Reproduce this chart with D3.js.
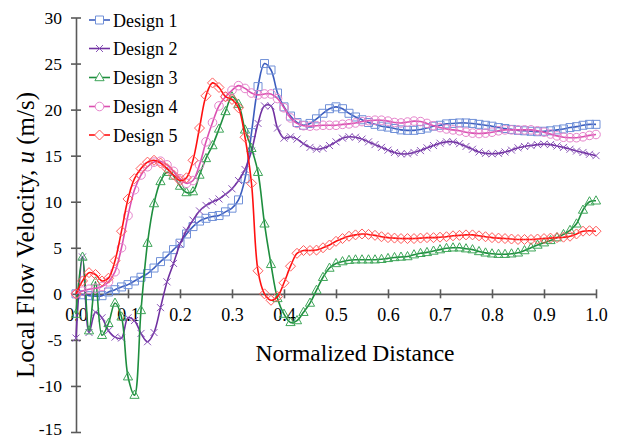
<!DOCTYPE html>
<html><head><meta charset="utf-8">
<script src="https://cdn.jsdelivr.net/npm/d3@7"></script>
<style>body{margin:0;background:#fff}</style>
</head><body><svg id="c" width="617" height="439"></svg>
<script>
// ---- data ----
const xValues = [0,0.0125,0.025,0.0375,0.05,0.0625,0.075,0.0875,0.1,0.1125,0.125,0.1375,0.15,0.1625,0.175,0.1875,0.2,0.2125,0.225,0.2375,0.25,0.2625,0.275,0.2875,0.3,0.3125,0.325,0.3375,0.35,0.3625,0.375,0.3875,0.4,0.4125,0.425,0.4375,0.45,0.4625,0.475,0.4875,0.5,0.5125,0.525,0.5375,0.55,0.5625,0.575,0.5875,0.6,0.6125,0.625,0.6375,0.65,0.6625,0.675,0.6875,0.7,0.7125,0.725,0.7375,0.75,0.7625,0.775,0.7875,0.8,0.8125,0.825,0.8375,0.85,0.8625,0.875,0.8875,0.9,0.9125,0.925,0.9375,0.95,0.9625,0.975,0.9875,1.0];
const design1 = [0,-0.1,-0.2,-0.25,-0.2,0.2,0.45,0.75,1.0,1.4,1.8,2.2,2.8,3.5,4.1,4.8,5.5,6.5,7.3,7.9,8.2,8.4,8.5,8.9,9.3,10.2,12.5,17.5,22.5,25.0,24.3,21.8,20.3,19.3,18.6,18.3,18.5,19.0,19.6,20.1,20.3,20.1,19.6,19.2,18.9,18.6,18.4,18.2,18.1,17.95,17.8,17.75,17.75,17.85,18.0,18.2,18.3,18.45,18.5,18.55,18.55,18.5,18.4,18.3,18.2,18.05,17.95,17.85,17.75,17.7,17.65,17.6,17.65,17.7,17.8,17.9,18.05,18.15,18.3,18.4,18.4];
const design2 = [-4.8,4.0,-4.2,-2.0,-2.6,-4.0,-4.7,-4.8,-2.6,-2.9,-4.3,-5.2,-4.2,-1.5,1.3,3.3,5.4,6.9,8.0,9.0,9.6,10.0,10.3,10.8,11.4,12.3,13.5,15.5,18.5,20.4,20.4,18.0,16.9,17.05,16.8,16.3,15.9,15.7,15.8,16.1,16.5,16.9,17.05,17.0,16.8,16.5,16.2,15.9,15.6,15.35,15.2,15.2,15.35,15.55,15.85,16.1,16.35,16.5,16.5,16.3,16.0,15.7,15.4,15.25,15.2,15.25,15.4,15.6,15.85,16.0,16.1,16.2,16.25,16.2,16.05,15.9,15.7,15.5,15.35,15.15,15.0];
const design3 = [-2.2,4.0,-4.0,1.3,-4.5,-3.2,-1.0,-2.5,-9.0,-11.0,-1.8,5.5,9.8,12.2,13.2,12.8,11.7,11.0,11.1,12.9,14.7,16.1,17.9,19.8,21.4,20.6,17.8,15.8,13.2,7.6,3.2,-0.5,-2.2,-3.1,-2.9,-2.0,-1.0,0.4,1.8,2.8,3.3,3.5,3.65,3.7,3.7,3.7,3.7,3.75,3.85,3.95,4.0,4.05,4.25,4.4,4.5,4.65,4.8,4.95,5.0,5.0,4.9,4.8,4.6,4.45,4.35,4.3,4.3,4.35,4.45,4.7,5.0,5.3,5.55,5.8,6.1,6.45,6.9,7.6,9.1,10.0,10.1];
const design4 = [0,0.3,0.5,0.6,0.8,1.3,2.4,5.0,8.5,11.3,12.9,13.8,14.3,14.4,14.0,13.3,12.5,12.0,12.3,14.0,16.5,18.6,20.4,21.4,22.1,22.6,22.3,21.8,21.6,21.7,21.7,21.2,20.2,19.1,18.5,18.25,18.2,18.25,18.3,18.3,18.3,18.4,18.45,18.55,18.7,18.8,18.85,18.85,18.75,18.6,18.55,18.65,18.75,18.7,18.5,18.25,18.05,17.9,17.8,17.7,17.55,17.45,17.4,17.45,17.55,17.7,17.8,17.8,17.8,17.8,17.8,17.7,17.55,17.35,17.15,17.0,16.95,16.95,17.05,17.2,17.3];
const design5 = [0,1.4,2.3,2.1,1.4,1.7,3.6,6.8,10.3,12.5,13.6,14.3,14.5,14.2,13.6,12.9,12.3,12.6,14.5,18.0,21.5,22.9,22.4,21.4,21.1,20.2,17.0,12.0,2.5,0.0,-0.7,-0.3,1.2,3.0,4.4,4.7,4.7,4.75,5.0,5.3,5.7,6.0,6.25,6.4,6.5,6.45,6.35,6.2,6.1,6.05,6.0,6.0,6.0,6.05,6.1,6.1,6.15,6.2,6.3,6.35,6.4,6.4,6.3,6.2,6.1,6.05,6.0,5.95,5.9,5.9,5.9,5.95,6.0,6.05,6.1,6.15,6.25,6.5,6.8,6.85,6.8];
const seriesNames = ["Design 1","Design 2","Design 3","Design 4","Design 5"];
const xTicks = [0,0.1,0.2,0.3,0.4,0.5,0.6,0.7,0.8,0.9,1.0];
const yTicks = [-15,-10,-5,0,5,10,15,20,25,30];
const xTitle = "Normalized Distance";

// ---- styles ----
const styles = [
  {line:"#3C5DBE", mark:"#7090D8", shape:"square"},
  {line:"#7030A0", mark:"#8A55B8", shape:"x"},
  {line:"#1E8E3E", mark:"#3FA65A", shape:"triangle"},
  {line:"#DB4FB0", mark:"#E684CC", shape:"circle"},
  {line:"#FF1010", mark:"#FF5A5A", shape:"diamond"}
];
const allSeries = [design1,design2,design3,design4,design5];
const FONT = "'Liberation Serif','Times New Roman',serif";

const svg = d3.select("#c");
const x = d3.scaleLinear().domain([0,1]).range([76,596]);
const y = d3.scaleLinear().domain([-15,30]).range([432,17.5]);

function symbolPath(shape){
  switch(shape){
    case "square": return "M-4,-4H4V4H-4Z";
    case "x": return "M-3.5,-3.5L3.5,3.5M-3.5,3.5L3.5,-3.5";
    case "triangle": return "M0,-5L4.6,3.2L-4.6,3.2Z";
    case "circle": return "M4.3,0A4.3,4.3 0 1,1 -4.3,0A4.3,4.3 0 1,1 4.3,0Z";
    case "diamond": return "M0,-5L5,0L0,5L-5,0Z";
  }
}

// ---- axes ----
const axisColor = "#5a5a5a";
const gx = svg.append("g").attr("transform",`translate(0,${y(0)})`)
  .call(d3.axisBottom(x).tickValues(xTicks).tickFormat(d => d.toFixed(1)).tickSizeInner(4.5).tickSizeOuter(0).tickPadding(9.5));
gx.select(".domain").attr("stroke",axisColor).attr("stroke-width",1.6);
gx.selectAll(".tick line").attr("y1",-4.5).attr("stroke",axisColor).attr("stroke-width",1.6);
gx.selectAll(".tick text").attr("font-family",FONT).attr("font-size",18).attr("fill","#000");

const gy = svg.append("g").attr("transform",`translate(${x(0)},0)`)
  .call(d3.axisLeft(y).tickValues(yTicks).tickFormat(d => String(d)).tickSizeInner(5).tickSizeOuter(0).tickPadding(9));
gy.select(".domain").attr("stroke",axisColor).attr("stroke-width",1.6);
gy.selectAll(".tick line").attr("x1",5).attr("stroke",axisColor).attr("stroke-width",1.6);
gy.selectAll(".tick text").attr("font-family",FONT).attr("font-size",17.5).attr("fill","#000")
  .attr("dy", d => d === -15 ? "0.17em" : "0.32em");

// ---- series ----
const line = d3.line().x((d,i)=>x(xValues[i])).y(d=>y(d)).curve(d3.curveCatmullRom.alpha(0.5));
allSeries.forEach((vals,si)=>{
  const st = styles[si];
  const g = svg.append("g");
  g.append("path").attr("d",line(vals)).attr("fill","none").attr("stroke",st.line).attr("stroke-width",1.6);
  g.selectAll("path.m").data(vals).enter().append("path").attr("class","m")
    .attr("d",symbolPath(st.shape))
    .attr("transform",(d,i)=>`translate(${x(xValues[i])},${y(d)})`)
    .attr("fill","none").attr("stroke",st.mark).attr("stroke-width",1);
});

// ---- legend ----
const legY = [20,48.5,77.5,106.5,135];
seriesNames.forEach((name,i)=>{
  const st = styles[i];
  const g = svg.append("g").attr("transform",`translate(0,${legY[i]})`);
  g.append("line").attr("x1",89).attr("x2",110).attr("y1",0).attr("y2",0).attr("stroke",st.line).attr("stroke-width",1.6);
  g.append("path").attr("d",symbolPath(st.shape)).attr("transform","translate(99.5,0)").attr("fill","#fff").attr("stroke",st.mark).attr("stroke-width",1);
  g.append("text").attr("x",113).attr("y",6.5).attr("font-family",FONT).attr("font-size",18).text(name);
});

// ---- titles ----
svg.append("text").attr("x",355).attr("y",361).attr("text-anchor","middle")
  .attr("font-family",FONT).attr("font-size",23.5).text(xTitle);
const yt = svg.append("text").attr("transform","translate(34,235) rotate(-90)").attr("text-anchor","middle")
  .attr("font-family",FONT).attr("font-size",25);
yt.append("tspan").text("Local Flow Velocity, ");
yt.append("tspan").attr("font-style","italic").text("u");
yt.append("tspan").text(" (m/s)");
</script>
</body></html>
